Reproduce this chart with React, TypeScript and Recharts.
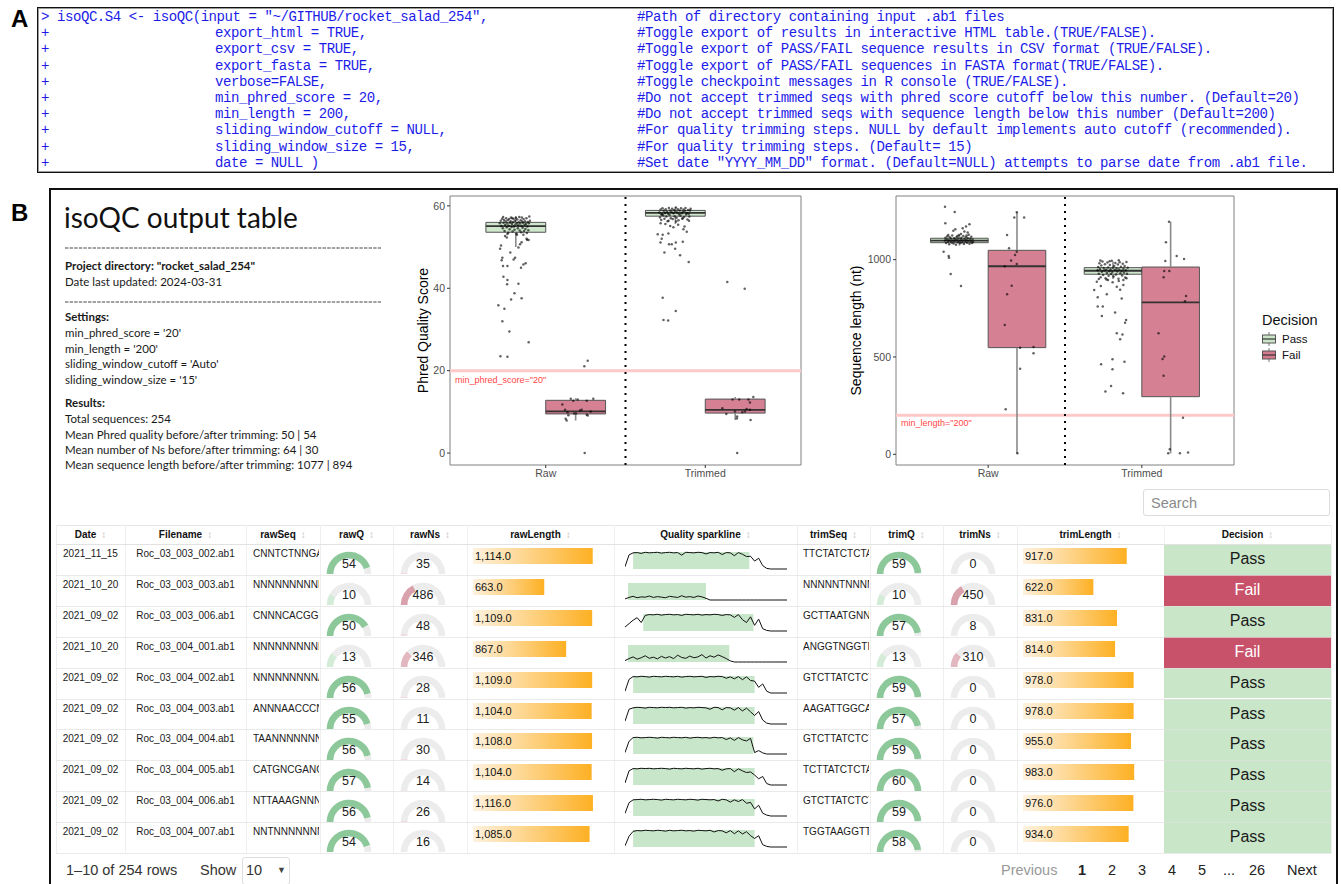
import React from 'react';
import {
  ComposedChart, Scatter, XAxis, YAxis, ReferenceArea, ReferenceLine,
  PieChart, Pie, Cell, LineChart, Line, BarChart, Bar, LabelList,
} from 'recharts';

const FONT = '"Liberation Sans", Arial, sans-serif';
const MONO = '"Liberation Mono", "DejaVu Sans Mono", monospace';
const LATO = 'Lato, "Noto Sans", sans-serif';

// ---------------- Panel A: console code ----------------
const codeArgs = [
  'isoQC.S4 <- isoQC(input = "~/GITHUB/rocket_salad_254",',
  'export_html = TRUE,',
  'export_csv = TRUE,',
  'export_fasta = TRUE,',
  'verbose=FALSE,',
  'min_phred_score = 20,',
  'min_length = 200,',
  'sliding_window_cutoff = NULL,',
  'sliding_window_size = 15,',
  'date = NULL )',
];
const codeComments = [
  '#Path of directory containing input .ab1 files',
  '#Toggle export of results in interactive HTML table.(TRUE/FALSE).',
  '#Toggle export of PASS/FAIL sequence results in CSV format (TRUE/FALSE).',
  '#Toggle export of PASS/FAIL sequences in FASTA format(TRUE/FALSE).',
  '#Toggle checkpoint messages in R console (TRUE/FALSE).',
  '#Do not accept trimmed seqs with phred score cutoff below this number. (Default=20)',
  '#Do not accept trimmed seqs with sequence length below this number (Default=200)',
  '#For quality trimming steps. NULL by default implements auto cutoff (recommended).',
  '#For quality trimming steps. (Default= 15)',
  '#Set date "YYYY_MM_DD" format. (Default=NULL) attempts to parse date from .ab1 file.',
];

// ---------------- Panel B: summary text ----------------
const summaryTitle = 'isoQC output table';
const projectLines = [
  { t: 'Project directory: "rocket_salad_254"', b: true, y: 266.7 },
  { t: 'Date last updated: 2024-03-31', b: false, y: 282 },
  { t: 'Settings:', b: true, y: 317.7 },
  { t: "min_phred_score = '20'", b: false, y: 333 },
  { t: "min_length = '200'", b: false, y: 349 },
  { t: "sliding_window_cutoff = 'Auto'", b: false, y: 364.5 },
  { t: "sliding_window_size = '15'", b: false, y: 380 },
  { t: 'Results:', b: true, y: 403 },
  { t: 'Total sequences: 254', b: false, y: 419 },
  { t: 'Mean Phred quality before/after trimming: 50 | 54', b: false, y: 435 },
  { t: 'Mean number of Ns before/after trimming: 64 | 30', b: false, y: 450 },
  { t: 'Mean sequence length before/after trimming: 1077 | 894', b: false, y: 465.7 },
];

// ---------------- Box plots ----------------
const categories = ['Raw', 'Trimmed'];
const decisions = ['Pass', 'Fail'];
const decisionFill = { Pass: '#cbe5c8', Fail: '#d47a8d' };

const phredBoxes = [
  { decision: 'Pass', x: 0.8125, lo: 50.0, q1: 53.6, med: 55.1, q3: 56.0, hi: 57.5 },
  { decision: 'Fail', x: 1.1875, lo: 7.9, q1: 9.5, med: 10.1, q3: 12.8, hi: 13.3 },
  { decision: 'Pass', x: 1.8125, lo: 55.6, q1: 57.5, med: 58.3, q3: 58.9, hi: 59.7 },
  { decision: 'Fail', x: 2.1875, lo: 8.0, q1: 9.7, med: 10.5, q3: 13.1, hi: 13.6 },
];
const lengthBoxes = [
  { decision: 'Pass', x: 0.8125, lo: 1072, q1: 1087, med: 1098, q3: 1110, hi: 1126 },
  { decision: 'Fail', x: 1.1875, lo: 5, q1: 548, med: 966, q3: 1048, hi: 1243 },
  { decision: 'Pass', x: 1.8125, lo: 900, q1: 925, med: 943, q3: 959, hi: 990 },
  { decision: 'Fail', x: 2.1875, lo: 5, q1: 296, med: 780, q3: 962, hi: 1195 },
];

const phredRawPass = [
  [0.712,55.8],[0.718,56.4],[0.722,55.1],[0.727,56.9],[0.731,54.6],[0.735,55.9],[0.739,56.6],[0.742,53.9],[0.746,55.4],[0.749,56.2],
  [0.752,57.0],[0.756,54.8],[0.759,55.7],[0.762,56.5],[0.765,53.5],[0.768,55.2],[0.771,56.8],[0.774,54.3],[0.777,55.9],[0.780,56.3],
  [0.783,57.2],[0.786,54.9],[0.789,55.6],[0.792,53.8],[0.795,56.1],[0.798,56.9],[0.801,55.0],[0.804,54.2],[0.807,56.4],[0.810,55.5],
  [0.813,57.1],[0.816,53.3],[0.819,55.8],[0.822,56.7],[0.825,54.6],[0.828,55.3],[0.831,56.0],[0.834,57.3],[0.837,54.0],[0.840,55.7],
  [0.843,56.5],[0.846,53.6],[0.849,55.1],[0.852,56.2],[0.855,54.7],[0.858,55.9],[0.861,56.8],[0.864,53.9],[0.867,55.4],[0.870,56.3],
  [0.873,54.4],[0.876,55.6],[0.879,57.0],[0.882,53.4],[0.885,55.0],[0.888,56.1],[0.891,54.1],[0.894,55.8],[0.897,57.4],[0.901,56.4],
  [0.733,57.3],[0.790,57.0],[0.850,57.2],[0.760,53.2],[0.820,53.0],
  [0.745,52.7],[0.720,50.4],[0.714,49.6],[0.728,47.4],[0.724,46.8],[0.732,45.4],[0.760,45.4],[0.778,48.7],[0.799,47.0],[0.808,47.4],
  [0.829,49.9],[0.839,50.7],[0.849,51.2],[0.860,45.8],[0.845,45.0],[0.874,46.1],[0.883,51.8],[0.893,51.7],[0.735,42.8],[0.760,42.0],
  [0.758,41.0],[0.829,41.1],[0.804,38.8],[0.783,37.3],[0.849,37.6],[0.703,35.9],[0.741,35.0],[0.728,32.0],[0.772,29.5],[0.893,26.9],
  [0.716,23.5],[0.760,23.4],[0.756,52.3],[0.880,52.0],[0.860,53.0],
];
const phredRawFail = [
  [1.104,11.8],[1.157,13.2],[1.173,12.7],[1.200,13.0],[1.257,12.7],[1.298,13.2],[1.121,10.5],[1.136,9.9],[1.142,9.2],[1.125,8.3],
  [1.131,7.9],[1.178,9.6],[1.215,10.3],[1.225,10.5],[1.257,9.3],[1.263,9.1],[1.282,10.1],[1.190,9.6],[1.242,21.1],[1.263,22.4],[1.244,0],
];
const phredTrimPass = [
  [1.712,58.4],[1.716,57.2],[1.720,59.1],[1.724,56.6],[1.728,58.0],[1.732,59.4],[1.736,57.7],[1.740,58.8],[1.744,56.9],[1.748,58.3],
  [1.752,59.2],[1.756,57.4],[1.760,58.6],[1.764,56.3],[1.768,58.1],[1.772,59.5],[1.776,57.8],[1.780,58.9],[1.784,57.0],[1.788,58.5],
  [1.792,59.3],[1.796,56.8],[1.800,58.2],[1.804,59.0],[1.808,57.5],[1.812,58.7],[1.816,59.6],[1.820,57.1],[1.824,58.4],[1.828,59.2],
  [1.832,56.5],[1.836,58.0],[1.840,58.9],[1.844,57.6],[1.848,59.4],[1.852,58.2],[1.856,56.9],[1.860,58.6],[1.864,59.1],[1.868,57.3],
  [1.872,58.8],[1.876,59.5],[1.880,57.9],[1.884,58.3],[1.888,56.7],[1.892,59.0],[1.896,58.1],[1.900,57.4],[1.904,58.9],[1.908,59.3],
  [1.726,57.9],[1.770,56.4],[1.818,56.2],[1.858,57.0],[1.898,56.4],
  [1.702,53.1],[1.733,53.0],[1.769,53.3],[1.727,52.0],[1.719,51.1],[1.773,50.7],[1.790,50.7],[1.815,51.1],[1.859,51.3],[1.811,49.6],
  [1.744,48.7],[1.842,48.0],[1.884,53.7],[1.863,54.3],[1.896,46.4],[1.733,37.7],[1.815,34.5],[1.738,32.3],[1.767,32.2],[1.780,55.1],
  [1.750,55.6],[1.830,55.4],[1.870,55.0],[1.720,55.8],[1.800,54.8],
];
const phredTrimFail = [
  [2.138,41.5],[2.247,39.9],[2.171,13.0],[2.213,13.0],[2.270,13.0],[2.280,12.3],[2.301,13.6],[2.107,10.9],[2.132,9.5],[2.186,10.1],
  [2.200,8.9],[2.198,8.4],[2.232,9.9],[2.249,10.1],[2.280,10.5],[2.284,8.0],[2.259,10.7],[2.200,0],
];

const lenRawPass = [
  [0.718,1098],[0.722,1112],[0.726,1085],[0.730,1104],[0.734,1120],[0.738,1092],[0.742,1101],[0.746,1079],[0.750,1115],[0.754,1096],
  [0.758,1108],[0.762,1088],[0.766,1124],[0.770,1099],[0.774,1083],[0.778,1110],[0.782,1094],[0.786,1105],[0.790,1077],[0.794,1117],
  [0.798,1100],[0.802,1090],[0.806,1109],[0.810,1126],[0.814,1095],[0.818,1084],[0.822,1103],[0.826,1113],[0.830,1089],[0.834,1098],
  [0.838,1121],[0.842,1080],[0.846,1106],[0.850,1093],[0.854,1116],[0.858,1101],[0.862,1087],[0.866,1111],[0.870,1097],[0.874,1128],
  [0.878,1082],[0.882,1107],[0.886,1095],[0.890,1118],[0.894,1086],[0.898,1103],[0.902,1091],[0.740,1127],[0.800,1122],[0.860,1124],
  [0.719,1272],[0.782,1245],[0.721,1187],[0.773,1149],[0.786,1156],[0.834,1161],[0.856,1170],[0.878,1182],[0.867,1139],[0.710,1041],
  [0.743,1019],[0.745,1010],[0.756,926],[0.823,865],[0.845,1144],[0.823,1132],
];
const lenRawFail = [
  [1.186,1243],[1.170,1217],[1.234,1217],[1.123,1127],[1.136,1058],[1.186,1041],[1.175,1024],[1.149,995],[1.186,978],[1.108,966],
  [1.153,866],[1.123,822],[1.108,664],[1.208,548],[1.295,551],[1.295,519],[1.208,440],[1.114,231],[1.190,5],
];
const lenTrimPass = [
  [1.712,945],[1.716,962],[1.720,928],[1.724,981],[1.728,952],[1.732,910],[1.736,970],[1.740,938],[1.744,990],[1.748,921],
  [1.752,957],[1.756,944],[1.760,976],[1.764,905],[1.768,949],[1.772,932],[1.776,985],[1.780,960],[1.784,917],[1.788,940],
  [1.792,972],[1.796,951],[1.800,926],[1.804,994],[1.808,936],[1.812,958],[1.816,913],[1.820,967],[1.824,947],[1.828,983],
  [1.832,924],[1.836,955],[1.840,939],[1.844,975],[1.848,902],[1.852,950],[1.856,987],[1.860,930],[1.864,963],[1.868,942],
  [1.872,919],[1.876,979],[1.880,953],[1.884,934],[1.888,968],[1.892,908],[1.896,946],[1.900,988],[1.904,927],[1.908,959],
  [1.730,996],[1.790,992],[1.850,997],[1.770,898],[1.880,895],
  [1.707,887],[1.733,865],[1.690,844],[1.772,822],[1.837,861],[1.859,845],[1.880,870],[1.713,807],[1.746,759],[1.713,759],
  [1.740,711],[1.826,728],[1.869,801],[1.891,676],[1.898,690],[1.837,622],[1.874,616],[1.859,591],[1.735,462],[1.809,488],
  [1.809,437],[1.887,476],[1.800,351],[1.763,322],[1.878,313],[1.780,895],[1.850,890],[1.720,900],[1.900,905],[1.810,884],
];
const lenTrimFail = [
  [2.177,1195],[2.157,1089],[2.227,1019],[2.275,1003],[2.153,993],[2.146,942],[2.179,942],[2.142,909],[2.288,813],[2.281,786],
  [2.109,622],[2.146,502],[2.135,490],[2.142,404],[2.268,188],[2.182,26],[2.172,5],[2.248,5],[2.301,9],
];

// ---------------- Table data ----------------
const tableHeaders = ['Date', 'Filename', 'rawSeq', 'rawQ', 'rawNs', 'rawLength', 'Quality sparkline', 'trimSeq', 'trimQ', 'trimNs', 'trimLength', 'Decision'];
const dates = ['2021_11_15', '2021_10_20', '2021_09_02', '2021_10_20', '2021_09_02', '2021_09_02', '2021_09_02', '2021_09_02', '2021_09_02', '2021_09_02'];
const filenames = ['Roc_03_003_002.ab1', 'Roc_03_003_003.ab1', 'Roc_03_003_006.ab1', 'Roc_03_004_001.ab1', 'Roc_03_004_002.ab1', 'Roc_03_004_003.ab1', 'Roc_03_004_004.ab1', 'Roc_03_004_005.ab1', 'Roc_03_004_006.ab1', 'Roc_03_004_007.ab1'];
const rawSeqs = ['CNNTCTNNGATC', 'NNNNNNNNNNNN', 'CNNNCACGGINN', 'NNNNNNNNNNNN', 'NNNNNNNNNANN', 'ANNNAACCCNNN', 'TAANNNNNNNNN', 'CATGNCGANCGN', 'NTTAAAGNNNNA', 'NNTNNNNNNNNN'];
const rawQ = [54, 10, 50, 13, 56, 55, 56, 57, 56, 54];
const rawNs = [35, 486, 48, 346, 28, 11, 30, 14, 26, 16];
const rawLength = [1114, 663, 1109, 867, 1109, 1104, 1108, 1104, 1116, 1085];
const trimSeqs = ['TTCTATCTCTATC', 'NNNNNTNNNNNN', 'GCTTAATGNNTA', 'ANGGTNGGTNNA', 'GTCTTATCTCTA', 'AAGATTGGCATC', 'GTCTTATCTCTA', 'TCTTATCTCTAT', 'GTCTTATCTCTA', 'TGGTAAGGTTCA'];
const trimQ = [59, 10, 57, 13, 59, 57, 59, 60, 59, 58];
const trimNs = [0, 450, 8, 310, 0, 0, 0, 0, 0, 0];
const trimLength = [917, 622, 831, 814, 978, 978, 955, 983, 976, 934];
const rowDecision = ['Pass', 'Fail', 'Pass', 'Fail', 'Pass', 'Pass', 'Pass', 'Pass', 'Pass', 'Pass'];

// quality sparklines (41 samples across the read) and trimmed window (sample index)
const spark1 = [8,50,57,58,55,59,57,58,59,56,58,59,57,58,49,59,58,57,59,58,53,58,57,59,51,58,57,47,58,52,44,45,28,38,12,2,0,0,0,0,0];
const spark2 = [4,9,13,8,11,10,14,9,12,10,8,13,11,9,15,10,12,9,14,11,6,0,0,0,0,0,0,0,0,0,0,0,0,0,0,0,0,0,0,0,0];
const spark3 = [14,26,38,47,30,55,58,57,59,56,58,59,57,58,55,59,58,57,59,56,58,57,59,58,55,58,57,48,58,40,30,50,20,42,8,2,0,0,0,0,0];
const spark4 = [5,12,18,10,15,22,13,17,11,20,14,19,12,24,16,13,21,15,18,26,14,22,17,25,19,12,4,0,0,0,0,0,0,0,0,0,0,0,0,0,0];
const spark5 = [6,48,58,57,59,58,56,59,58,57,59,58,57,59,56,58,59,57,58,59,55,58,57,59,58,52,57,50,58,47,57,44,42,20,32,6,0,0,0,0,0];
const spark6 = [10,52,57,59,58,56,59,58,57,59,58,59,57,58,59,56,58,57,59,58,57,52,59,58,50,58,57,49,58,46,56,43,30,44,14,3,0,0,0,0,0];
const spark7 = [5,45,58,59,57,58,59,58,56,59,58,57,59,58,57,59,56,58,59,57,58,56,59,57,58,51,57,48,58,50,46,55,5,12,4,0,0,0,0,0,0];
const spark8 = [7,50,58,57,59,58,59,57,58,59,58,56,59,58,57,59,58,57,59,56,58,59,57,58,52,57,58,47,57,50,44,46,35,22,30,5,0,0,0,0,0];
const spark9 = [9,47,57,58,59,57,58,59,58,56,59,58,57,59,58,57,59,58,56,59,58,57,58,53,59,57,49,57,51,58,45,48,25,38,10,3,0,0,0,0,0];
const spark10 = [4,38,55,58,57,59,58,57,59,58,56,59,57,58,59,57,58,56,59,58,57,59,53,58,57,50,58,47,57,46,54,40,30,40,8,2,0,0,0,0,0];
const sparkRows = [spark1, spark2, spark3, spark4, spark5, spark6, spark7, spark8, spark9, spark10];
const trimWindows = [[2, 30.7], [0.75, 20], [4.5, 31.7], [0.75, 25.75], [2, 32], [2, 32], [2, 31.7], [2, 32], [2, 32], [2, 32]];

const paginationPages = ['1', '2', '3', '4', '5', '...', '26'];

// ---------------- helpers ----------------
const COLS = [56, 125, 246, 320, 393, 467, 614, 797, 870, 943, 1017, 1164, 1331];
const HEAD_TOP = 525;
const ROW_TOP = 544;
const ROW_H = 30.9;

const HLineLabel = (props: any) => {
  const vb = props.viewBox || {};
  const x = (vb.x ?? 0) + 5;
  const y = (vb.y ?? 0) + props.dyOff;
  return <text x={x} y={y} fill="#ff4545" fontSize={9} fontFamily={FONT}>{props.text}</text>;
};

const PointShape = (p: any) => <circle cx={p.cx} cy={p.cy} r={1.25} fill="#000" fillOpacity={0.62} />;

function BoxPlotChart(props: any) {
  const { left, top, width, height, yAxisWidth, marginRight, domain, ticks, boxes, groups, threshold, thresholdLabel, labelDy, yTitle, titleOffset, titleSize } = props;
  const pts = [];
  groups.forEach((g: number[][]) => g.forEach(([x, y]) => pts.push({ x, y })));
  return (
    <div style={{ position: 'absolute', left, top }}>
      <ComposedChart width={width} height={height} margin={{ top: 6, right: marginRight, bottom: 0, left: 0 }}>
        <XAxis type="number" dataKey="x" domain={[0.4, 2.6]} ticks={[1, 2]} allowDataOverflow
          tickFormatter={(v: number) => categories[Math.round(v) - 1]} axisLine={false} tickSize={3}
          tickLine={{ stroke: '#333' }} tick={{ fontSize: 10.5, fill: '#4d4d4d', fontFamily: FONT }} height={20} />
        <YAxis type="number" dataKey="y" domain={domain} ticks={ticks} allowDataOverflow axisLine={false}
          width={yAxisWidth} tickSize={3} tickLine={{ stroke: '#333' }}
          tick={{ fontSize: 10.5, fill: '#4d4d4d', fontFamily: FONT }}
          label={{ value: yTitle, angle: -90, position: 'insideLeft', offset: titleOffset, style: { textAnchor: 'middle', fontSize: titleSize, fill: '#000', fontFamily: FONT } }} />
        <ReferenceLine y={threshold} stroke="#ffc9c9" strokeWidth={3} label={<HLineLabel text={thresholdLabel} dyOff={labelDy} />} />
        <ReferenceLine x={1.5} stroke="#000" strokeWidth={2} strokeDasharray="2 5" />
        {boxes.map((b: any, i: number) => (
          <React.Fragment key={i}>
            <ReferenceLine segment={[{ x: b.x, y: b.lo }, { x: b.x, y: b.q1 }]} stroke="#8a8a8a" strokeWidth={1.6} />
            <ReferenceLine segment={[{ x: b.x, y: b.q3 }, { x: b.x, y: b.hi }]} stroke="#8a8a8a" strokeWidth={1.6} />
            <ReferenceArea x1={b.x - 0.1875} x2={b.x + 0.1875} y1={b.q1} y2={b.q3} fill={decisionFill[b.decision]} fillOpacity={0.95} stroke="#555" strokeWidth={1} />
            <ReferenceLine segment={[{ x: b.x - 0.1875, y: b.med }, { x: b.x + 0.1875, y: b.med }]} stroke="#333" strokeWidth={1.8} />
          </React.Fragment>
        ))}
        <Scatter data={pts} isAnimationActive={false} shape={PointShape} />
        <ReferenceArea x1={0.4} x2={2.6} y1={domain[0]} y2={domain[1]} fill="none" fillOpacity={0} stroke="#808080" strokeWidth={1} />
      </ComposedChart>
    </div>
  );
}

function Gauge({ value, max, color, left, top }: any) {
  const data = [{ v: Math.min(value, max) }, { v: Math.max(max - value, 0) }];
  return (
    <div style={{ position: 'absolute', left, top, width: 46, height: 24 }}>
      <PieChart width={46} height={24} margin={{ top: 0, right: 0, bottom: 0, left: 0 }}>
        <Pie data={data} dataKey="v" cx={23} cy={23} startAngle={180} endAngle={0} innerRadius={15.6} outerRadius={22.3} stroke="none" isAnimationActive={false}>
          <Cell fill={color} />
          <Cell fill="#ececec" />
        </Pie>
      </PieChart>
      <div style={{ position: 'absolute', left: 0, top: 6, width: 46, textAlign: 'center', fontSize: 12.5, lineHeight: '14px', color: '#222', fontFamily: FONT }}>{value}</div>
    </div>
  );
}

function DataBar({ value, max, id, left, top }: any) {
  const data = [{ n: 'v', v: value, label: value.toLocaleString('en-US', { minimumFractionDigits: 1, maximumFractionDigits: 1 }) }];
  return (
    <div style={{ position: 'absolute', left, top }}>
      <BarChart width={131} height={16} data={data} layout="vertical" margin={{ top: 0, right: 0, bottom: 0, left: 0 }} barCategoryGap={0}>
        <defs>
          <linearGradient id={id} x1="0" y1="0" x2="1" y2="0">
            <stop offset="0" stopColor="#fef2e0" />
            <stop offset="1" stopColor="#fdb023" />
          </linearGradient>
        </defs>
        <XAxis type="number" domain={[0, max]} hide />
        <YAxis type="category" dataKey="n" hide />
        <Bar dataKey="v" fill={`url(#${id})`} isAnimationActive={false}>
          <LabelList dataKey="label" position="insideLeft" offset={2} fill="#111" fontSize={11} fontFamily={FONT} />
        </Bar>
      </BarChart>
    </div>
  );
}

function Sparkline({ values, window, left, top }: any) {
  const data = values.map((q: number, i: number) => ({ i, q }));
  return (
    <div style={{ position: 'absolute', left, top }}>
      <LineChart width={162} height={19} data={data} margin={{ top: 1, right: 0, bottom: 1, left: 0 }}>
        <XAxis type="number" dataKey="i" domain={[0, 40]} hide />
        <YAxis type="number" domain={[0, 60]} hide />
        <ReferenceArea x1={window[0]} x2={window[1]} y1={0} y2={60} fill="#c8e6c9" fillOpacity={1} stroke="none" />
        <Line dataKey="q" type="linear" stroke="#111" strokeWidth={1} dot={false} isAnimationActive={false} />
      </LineChart>
    </div>
  );
}

const qColor = (v: number) => (v >= 40 ? '#8cc899' : '#d4ecd7');
const nColor = (v: number) => (v >= 400 ? '#d9a1ac' : v >= 300 ? '#e3b7c0' : '#f0dbde');

const abs = (left: number, top: number, extra: any = {}) => ({ position: 'absolute' as const, left, top, ...extra });
const codeStyle = { fontFamily: MONO, fontSize: 14, letterSpacing: '-0.42px', lineHeight: '16px', color: '#1c1ce8', whiteSpace: 'pre' };

export default function App() {
  return (
    <div style={{ position: 'relative', width: 1341, height: 884, overflow: 'hidden', background: '#fff', fontFamily: FONT }}>
      <style>{'body{margin:0;}'}</style>

      {/* Panel labels */}
      <div style={abs(11, 5, { fontSize: 24, fontWeight: 700, fontFamily: FONT, lineHeight: '28px' })}>A</div>
      <div style={abs(11, 199, { fontSize: 24, fontWeight: 700, fontFamily: FONT, lineHeight: '28px' })}>B</div>

      {/* Panel A */}
      <div style={abs(37, 7, { width: 1297, height: 166, border: '1px solid #111', boxShadow: 'inset 0 0 0 1px #9a9a9a', boxSizing: 'border-box' })} />
      {codeArgs.map((t, i) => (
        <React.Fragment key={i}>
          <div style={abs(41, 9 + i * 16.2, codeStyle)}>
            {i === 0 ? '> ' + t : '+'}
          </div>
          {i > 0 && (
            <div style={abs(215, 9 + i * 16.2, codeStyle)}>{t}</div>
          )}
          <div style={abs(637, 9 + i * 16.2, codeStyle)}>{codeComments[i]}</div>
        </React.Fragment>
      ))}

      {/* Panel B frame */}
      <div style={abs(49, 188, { width: 1289, height: 720, border: '2px solid #111', boxSizing: 'border-box' })} />

      {/* Summary */}
      <div style={abs(64, 200, { fontFamily: LATO, fontSize: 28, lineHeight: '34px', color: '#111', whiteSpace: 'nowrap' })}>{summaryTitle}</div>
      {[247.7, 301.7].map((y, i) => (
        <svg key={i} style={abs(65, y - 1)} width={316} height={2}>
          <line x1={0} y1={1} x2={316} y2={1} stroke="#444" strokeWidth={1} strokeDasharray="3.4 1.2" />
        </svg>
      ))}
      {projectLines.map((l, i) => (
        <div key={i} style={abs(65, l.y - 8.5, { fontFamily: LATO, fontSize: 11.5, lineHeight: '16px', fontWeight: l.b ? 700 : 400, color: '#1a1a1a', whiteSpace: 'nowrap' })}>{l.t}</div>
      ))}

      {/* Box plots */}
      <BoxPlotChart left={405} top={190} width={400} height={295} yAxisWidth={45} marginRight={4}
        domain={[-2.9, 62.4]} ticks={[0, 20, 40, 60]} boxes={phredBoxes}
        groups={[phredRawPass, phredRawFail, phredTrimPass, phredTrimFail]}
        threshold={20} thresholdLabel={'min_phred_score="20"'} labelDy={12}
        yTitle="Phred Quality Score" titleOffset={18} titleSize={14} />
      <BoxPlotChart left={840} top={190} width={500} height={295} yAxisWidth={56} marginRight={106}
        domain={[-55, 1327]} ticks={[0, 500, 1000]} boxes={lengthBoxes}
        groups={[lenRawPass, lenRawFail, lenTrimPass, lenTrimFail]}
        threshold={200} thresholdLabel={'min_length="200"'} labelDy={11}
        yTitle="Sequence length (nt)" titleOffset={16} titleSize={14} />

      {/* Legend */}
      <div style={abs(1262, 311, { fontSize: 14.5, lineHeight: '18px', color: '#111' })}>Decision</div>
      {decisions.map((d, i) => (
        <React.Fragment key={d}>
          <svg style={abs(1261, 331 + i * 16)} width={16} height={16}>
            <line x1={8} y1={1} x2={8} y2={15} stroke="#777" strokeWidth={1} />
            <rect x={1.5} y={4} width={13} height={8} fill={decisionFill[d]} stroke="#555" strokeWidth={1} />
            <line x1={1.5} y1={8} x2={14.5} y2={8} stroke="#333" strokeWidth={1.2} />
          </svg>
          <div style={abs(1282, 331 + i * 16, { fontSize: 11.5, lineHeight: '16px', color: '#111' })}>{d}</div>
        </React.Fragment>
      ))}

      {/* Search box */}
      <div style={abs(1143, 489, { width: 187, height: 27, border: '1px solid #dcdcdc', borderRadius: 3, boxSizing: 'border-box' })} />
      <div style={abs(1151, 493, { fontSize: 14.5, lineHeight: '20px', color: '#8a8a8a' })}>Search</div>

      {/* Table grid lines */}
      <div style={abs(COLS[0], HEAD_TOP, { width: COLS[12] - COLS[0], height: 1, background: '#e6e6e6' })} />
      {COLS.map((x, i) => (
        <div key={i} style={abs(x, HEAD_TOP, { width: 1, height: ROW_TOP + 10 * ROW_H - HEAD_TOP, background: '#efefef' })} />
      ))}

      {/* Header */}
      {tableHeaders.map((h, i) => (
        <div key={h} style={abs(COLS[i], HEAD_TOP + 3, { width: COLS[i + 1] - COLS[i], textAlign: 'center', fontSize: 10, fontWeight: 700, lineHeight: '14px', color: '#111', whiteSpace: 'nowrap' })}>
          {h}<span style={{ color: '#c2c2c2', fontWeight: 400, marginLeft: 5, fontSize: 10 }}>↕</span>
        </div>
      ))}

      {/* Rows */}
      {dates.map((d, r) => {
        const top = ROW_TOP + r * ROW_H;
        const fail = rowDecision[r] === 'Fail';
        return (
          <React.Fragment key={r}>
            <div style={abs(COLS[0], top + 4, { width: COLS[1] - COLS[0], textAlign: 'center', fontSize: 10, lineHeight: '12px', color: '#1a1a1a' })}>{d}</div>
            <div style={abs(COLS[1], top + 4, { width: COLS[2] - COLS[1], textAlign: 'center', fontSize: 10, lineHeight: '12px', color: '#1a1a1a' })}>{filenames[r]}</div>
            <div style={abs(COLS[2] + 7, top + 4, { width: COLS[3] - COLS[2] - 8, overflow: 'hidden', whiteSpace: 'nowrap', fontSize: 10, lineHeight: '12px', color: '#1a1a1a' })}>{rawSeqs[r]}</div>
            <Gauge value={rawQ[r]} max={60} color={qColor(rawQ[r])} left={COLS[3] + 6} top={top + 7.3} />
            <Gauge value={rawNs[r]} max={1400} color={nColor(rawNs[r])} left={COLS[4] + 7} top={top + 7.3} />
            <DataBar value={rawLength[r]} max={1219} id={`rawg${r}`} left={COLS[5] + 6} top={top + 4} />
            <Sparkline values={sparkRows[r]} window={trimWindows[r]} left={625} top={top + 7} />
            <div style={abs(COLS[7] + 6, top + 4, { width: COLS[8] - COLS[7] - 7, overflow: 'hidden', whiteSpace: 'nowrap', fontSize: 10, lineHeight: '12px', color: '#1a1a1a' })}>{trimSeqs[r]}</div>
            <Gauge value={trimQ[r]} max={60} color={qColor(trimQ[r])} left={COLS[8] + 6} top={top + 7.3} />
            <Gauge value={trimNs[r]} max={1400} color={nColor(trimNs[r])} left={COLS[9] + 7} top={top + 7.3} />
            <DataBar value={trimLength[r]} max={1158} id={`trimg${r}`} left={COLS[10] + 6} top={top + 4} />
            <div style={abs(COLS[11], top, { width: COLS[12] - COLS[11], height: ROW_H, background: fail ? '#c9526b' : '#c9e6c9', color: fail ? '#fff' : '#1a1a1a', fontSize: 16, lineHeight: `${ROW_H}px`, textAlign: 'center' })}>{rowDecision[r]}</div>
          </React.Fragment>
        );
      })}
      {[...Array(11)].map((_, i) => (
        <div key={i} style={abs(COLS[0], ROW_TOP + i * ROW_H, { width: COLS[12] - COLS[0], height: 1, background: i === 0 ? '#e2e2e2' : 'rgba(225,225,225,0.7)' })} />
      ))}

      {/* Pagination */}
      <div style={abs(66, 860, { fontSize: 14.5, lineHeight: '20px', color: '#333', whiteSpace: 'nowrap' })}>1–10 of 254 rows</div>
      <div style={abs(200, 860, { fontSize: 14.5, lineHeight: '20px', color: '#333' })}>Show</div>
      <div style={abs(242, 857, { width: 48, height: 28, border: '1px solid #dedede', borderRadius: 3, boxSizing: 'border-box' })} />
      <div style={abs(246, 860, { fontSize: 14.5, lineHeight: '20px', color: '#333' })}>10</div>
      <div style={abs(277, 861, { fontSize: 9, lineHeight: '18px', color: '#444' })}>▼</div>
      <div style={abs(1001, 860, { fontSize: 14.5, lineHeight: '20px', color: '#999' })}>Previous</div>
      {paginationPages.map((p, i) => {
        const xs = [1078, 1108, 1138, 1168, 1198, 1223, 1249];
        return (
          <div key={i} style={abs(xs[i], 860, { fontSize: 14.5, lineHeight: '20px', color: '#222', fontWeight: i === 0 ? 700 : 400 })}>{p}</div>
        );
      })}
      <div style={abs(1287, 860, { fontSize: 14.5, lineHeight: '20px', color: '#222' })}>Next</div>
    </div>
  );
}
